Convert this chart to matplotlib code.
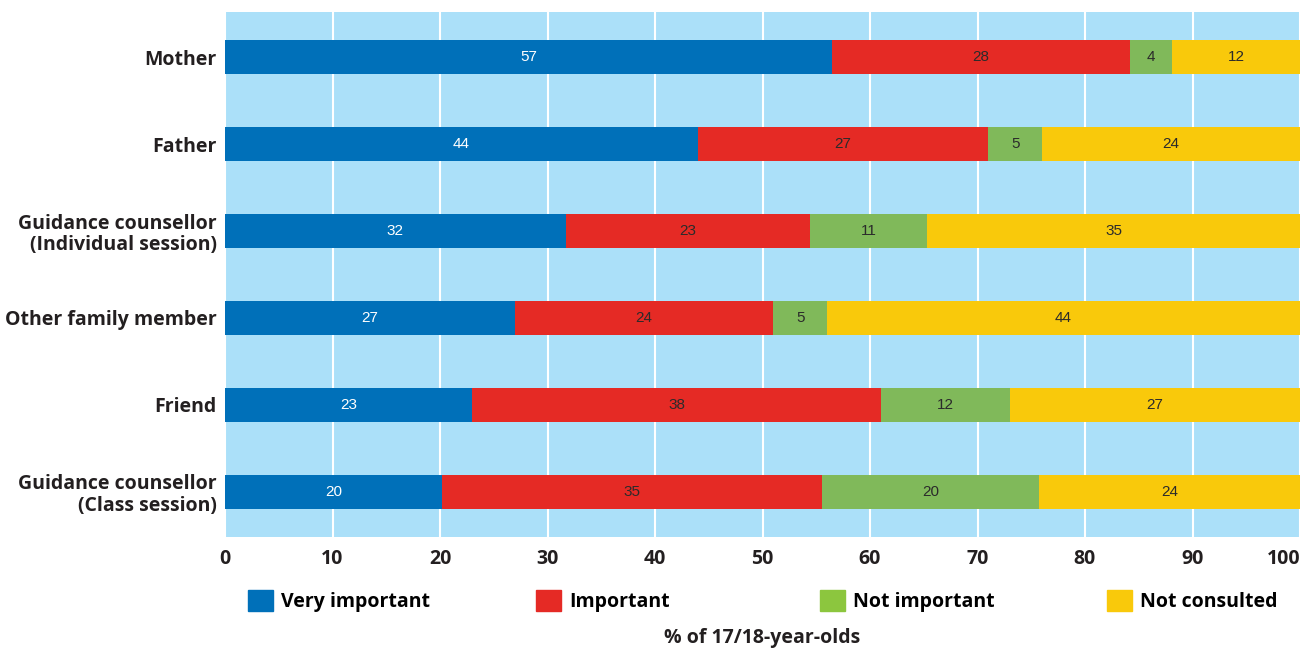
import numpy as np
import matplotlib
matplotlib.use("Agg")
import matplotlib.pyplot as plt

plt.rcParams['font.family'] = ['Open Sans', 'DejaVu Sans']

# data
sources = ['Mother', 'Father', 'Guidance counsellor\n(Individual session)',
           'Other family member', 'Friend', 'Guidance counsellor\n(Class session)']
very_important = [57, 44, 32, 27, 23, 20]
important = [28, 27, 23, 24, 38, 35]
not_important = [4, 5, 11, 5, 12, 20]
not_consulted = [12, 24, 35, 44, 27, 24]
series_names = ['Very important', 'Important', 'Not important', 'Not consulted']
xticks = [0, 10, 20, 30, 40, 50, 60, 70, 80, 90, 100]

colors = ['#0070b9', '#e52a25', '#80b95a', '#f9c90b']
legend_colors = ['#0070b9', '#e52a25', '#8cc63e', '#f9c90b']
text_colors = ['white', '#2b2b2b', '#2b2b2b', '#2b2b2b']

vals = np.array([very_important, important, not_important, not_consulted], dtype=float)
totals = vals.sum(axis=0)
shares = vals / totals * 100  # bars fill the full width

fig = plt.figure(figsize=(13.02, 6.52), dpi=100)
ax = fig.add_axes([225/1302, 115/652, 1075/1302, 525/652])
ax.set_facecolor('#abe0f9')

y = np.arange(len(sources))
left = np.zeros(len(sources))
handles = []
for i in range(4):
    b = ax.barh(y, shares[i], left=left, height=0.39, color=colors[i],
                edgecolor='none', zorder=3)
    for j in range(len(sources)):
        ax.text(left[j] + shares[i][j] / 2, y[j], '%d' % vals[i][j],
                ha='center', va='center', fontsize=11, color=text_colors[i],
                family='Liberation Sans', zorder=4)
    left += shares[i]
    handles.append(plt.Rectangle((0, 0), 1, 1, color=legend_colors[i]))

ax.set_xlim(0, 100)
ax.set_ylim(len(sources) - 0.48, -0.52)
ax.set_yticks(y)
ax.set_yticklabels(sources, fontsize=14, fontweight='bold', color='#231f20',
                   linespacing=1.1)
ax.set_xticks(xticks)
ax.set_xticklabels([str(t) for t in xticks], fontsize=14, fontweight='bold',
                   color='#231f20')
ax.get_xticklabels()[-1].set_ha('right')
ax.tick_params(length=0, pad=6)
ax.tick_params(axis='x', pad=9)
ax.xaxis.grid(True, color='white', linewidth=1.5, zorder=1)
ax.set_axisbelow(True)
for s in ax.spines.values():
    s.set_visible(False)

# one legend entry per position, as in the original layout
legend_x = [242, 530, 814, 1101]
for h, name, lx in zip(handles, series_names, legend_x):
    fig.legend([h], [name], loc='center left',
               bbox_to_anchor=(lx/1302, 51/652), frameon=False,
               handlelength=1.3, handleheight=1.3, handletextpad=0.4,
               borderaxespad=0, borderpad=0.3,
               prop={'weight': 'bold', 'size': 14})

fig.text(762/1302, 14/652, '% of 17/18-year-olds', ha='center', va='center',
         fontsize=14, fontweight='bold', color='#231f20')

fig.savefig('out.png', dpi=100)
